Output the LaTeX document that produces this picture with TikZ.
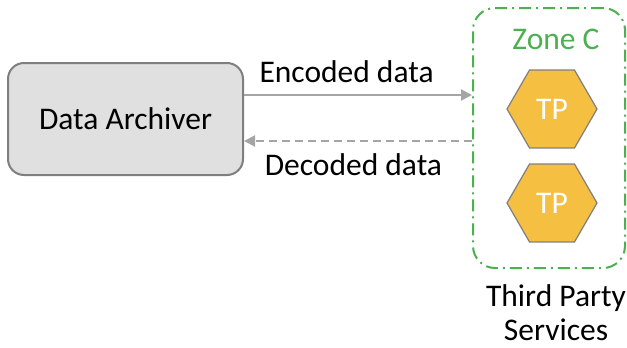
\documentclass[tikz,border=0pt]{standalone}
\usepackage{fontspec}
\setmainfont{Carlito}
\usetikzlibrary{shapes.geometric,arrows.meta}
\definecolor{boxfill}{HTML}{E0E0E0}
\definecolor{boxline}{HTML}{7F7F7F}
\definecolor{flowgray}{HTML}{A5A5A5}
\definecolor{zonegreen}{HTML}{4CAF50}
\definecolor{tpfill}{HTML}{F5BF42}
\tikzset{
  txt/.style={font=\fontsize{31.5}{37}\selectfont, inner sep=0pt},
  archiver/.style={txt, draw=boxline, fill=boxfill, line width=2pt,
    rounded corners=16pt, minimum width=235pt, minimum height=112pt},
  zonebox/.style={draw=zonegreen, line width=2pt, rounded corners=22pt,
    dash pattern=on 12pt off 5pt on 2pt off 5pt,
    minimum width=152pt, minimum height=260pt, inner sep=0pt},
  tp/.style={txt, regular polygon, regular polygon sides=6,
    minimum size=90pt, draw=boxline, line width=1.2pt, fill=tpfill,
    text=white},
  flow/.style={draw=flowgray, line width=2pt,
    -{Triangle[length=11pt,width=11pt]}},
}
\begin{document}
\begin{tikzpicture}[x=1pt,y=-1pt]
  \useasboundingbox (0,0) rectangle (627,348);
  % source system
  \node[archiver] (archiver) at (125.5,119) {Data Archiver};
  % third-party zone with its services
  \node[zonebox] (zone) at (549,138) {};
  \node[txt, text=zonegreen] (zonelabel) at (556,39) {Zone C};
  \node[tp] (tp1) at (552,109) {TP};
  \node[tp] (tp2) at (552,203) {TP};
  \node[txt, align=center] (services) at (556,313)
    {Third Party\\[-3pt]Services};
  % data exchanged in both directions
  \draw[flow] ([yshift=24]archiver.east) -- ([yshift=24]archiver.east -| zone.west)
    node[txt, pos=0.45, above=11pt] (enc) {Encoded data};
  \draw[flow, dashed, dash pattern=on 8pt off 5pt]
    ([yshift=-22]archiver.east -| zone.west) -- ([yshift=-22]archiver.east)
    node[txt, pos=0.52, below=12pt] (dec) {Decoded data};
\end{tikzpicture}
\end{document}
